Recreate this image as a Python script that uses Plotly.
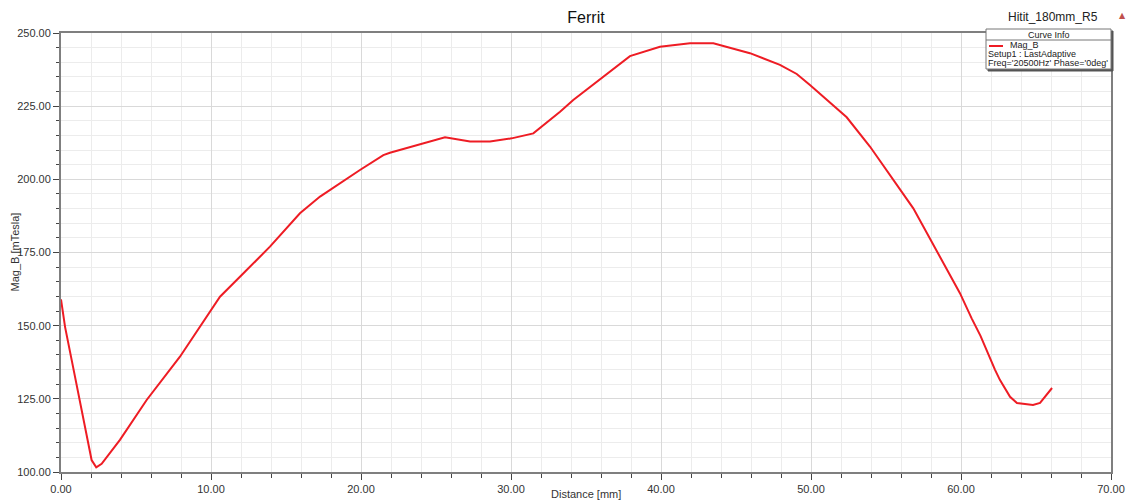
import plotly.graph_objects as go

distance_mm = [0.0, 0.27, 0.71, 1.16, 1.6, 2.04, 2.35, 2.71, 3.93, 5.71, 7.93, 10.6, 12.38,
               13.93, 15.93, 17.27, 19.93, 21.49, 21.93, 25.6, 27.27, 28.6, 30.04, 31.49,
               33.27, 34.15, 37.93, 39.93, 41.93, 43.49, 45.93, 47.93, 49.05, 49.93, 52.38,
               53.93, 56.82, 59.93, 60.71, 61.3, 62.27, 62.6, 63.27, 63.73, 64.8, 65.27, 66.07]
mag_b = [159.0, 149.6, 138.3, 127.0, 115.4, 104.1, 101.6, 102.8, 111.0, 124.6, 139.4, 159.9,
         169.0, 177.0, 188.4, 194.1, 203.2, 208.3, 209.1, 214.4, 212.9, 212.9, 214.0, 215.7,
         223.1, 227.1, 242.1, 245.3, 246.5, 246.5, 243.1, 239.1, 236.0, 232.2, 221.2,
         211.2, 190.1, 161.1, 152.5, 146.5, 134.9, 131.4, 125.7, 123.6, 122.9, 123.6, 128.7]

PW, PH = 1136, 504          # page size
OFF = 8                     # default body margin of the html page
W, H = PW - OFF, PH - OFF   # figure size
L, R, T, B = 61, 1111, 33, 472   # plot area in page pixels

def px(x):
    return (x - L) / (R - L)

def py(y):
    return (B - y) / (B - T)

fig = go.Figure()
fig.add_trace(go.Scatter(x=distance_mm, y=mag_b, mode="lines",
                         line=dict(color="#ee1c24", width=2), showlegend=False))

axis_common = dict(
    showline=True, linecolor="#7f7f7f", linewidth=2, mirror=True,
    ticks="outside", ticklen=6, tickcolor="#444", tickwidth=1,
    showgrid=True, gridcolor="#d9d9d9", gridwidth=1, zeroline=False,
    tickformat=".2f", tickfont=dict(family="Liberation Sans, Arial", size=11, color="#333"),
    automargin=False,
)

fig.update_xaxes(range=[0, 70], dtick=10, **axis_common,
                 minor=dict(dtick=2, showgrid=True, gridcolor="#ececec", ticks="outside",
                            ticklen=4, tickcolor="#444"))
fig.update_yaxes(range=[100, 250], dtick=25, **axis_common,
                 minor=dict(dtick=5, showgrid=True, gridcolor="#ececec", ticks="outside",
                            ticklen=3, tickcolor="#444"))

fig.update_layout(
    width=W, height=H,
    margin=dict(l=L - OFF, r=PW - R, t=T - OFF, b=PH - B, autoexpand=False),
    paper_bgcolor="white", plot_bgcolor="white",
    title=dict(text="Ferrit", x=px(586), xref="paper", xanchor="center",
               y=1 - (17 - OFF) / H, yanchor="middle",
               font=dict(family="Liberation Sans, Arial", size=16, color="#111")),
)

axfont = dict(family="Liberation Sans, Arial", size=11, color="#333")
fig.add_annotation(xref="paper", yref="paper", x=px(586), y=py(494), text="Distance [mm]",
                   showarrow=False, xanchor="center", yanchor="middle", font=axfont)
fig.add_annotation(xref="paper", yref="paper", x=px(14.5), y=py(252), text="Mag_B [mTesla]",
                   showarrow=False, xanchor="center", yanchor="middle", textangle=-90,
                   font=axfont, borderpad=0)

# Curve info box
bx0, bx1, by0, by1 = 986, 1111, 29, 69
fig.add_shape(type="rect", xref="paper", yref="paper",
              x0=px(bx0 + 2), x1=px(bx1 + 2), y0=py(by1 + 2), y1=py(by0 + 2),
              line=dict(color="#555", width=1), fillcolor="#555")
fig.add_shape(type="rect", xref="paper", yref="paper",
              x0=px(bx0), x1=px(bx1), y0=py(by1), y1=py(by0),
              line=dict(color="#777", width=1), fillcolor="white")
fig.add_shape(type="line", xref="paper", yref="paper",
              x0=px(bx0), x1=px(bx1), y0=py(40), y1=py(40),
              line=dict(color="#777", width=1))
fig.add_shape(type="line", xref="paper", yref="paper",
              x0=px(989), x1=px(1003), y0=py(46), y1=py(46),
              line=dict(color="#ee1c24", width=2))

fnt = dict(family="Liberation Sans, Arial", size=9, color="#222")
fig.add_annotation(xref="paper", yref="paper", x=px(1049), y=py(34.5), text="Curve Info",
                   showarrow=False, xanchor="center", yanchor="middle", font=fnt, borderpad=0)
fig.add_annotation(xref="paper", yref="paper", x=px(1009), y=py(45), text="Mag_B",
                   showarrow=False, xanchor="left", yanchor="middle", font=fnt, borderpad=0)
fig.add_annotation(xref="paper", yref="paper", x=px(987), y=py(54), text="Setup1 : LastAdaptive",
                   showarrow=False, xanchor="left", yanchor="middle", font=fnt, borderpad=0)
fig.add_annotation(xref="paper", yref="paper", x=px(987), y=py(63.5), text="Freq='20500Hz' Phase='0deg'",
                   showarrow=False, xanchor="left", yanchor="middle", font=fnt, borderpad=0)
fig.add_annotation(xref="paper", yref="paper", x=px(1100), y=py(17), text="Hitit_180mm_R5",
                   showarrow=False, xanchor="right", yanchor="middle",
                   font=dict(family="Liberation Sans, Arial", size=12, color="#222"))
fig.add_annotation(xref="paper", yref="paper", x=px(1122), y=py(16), text="▲",
                   showarrow=False, xanchor="center", yanchor="middle",
                   font=dict(family="DejaVu Sans", size=8, color="#c0504d"))

fig.write_html("out.html")
